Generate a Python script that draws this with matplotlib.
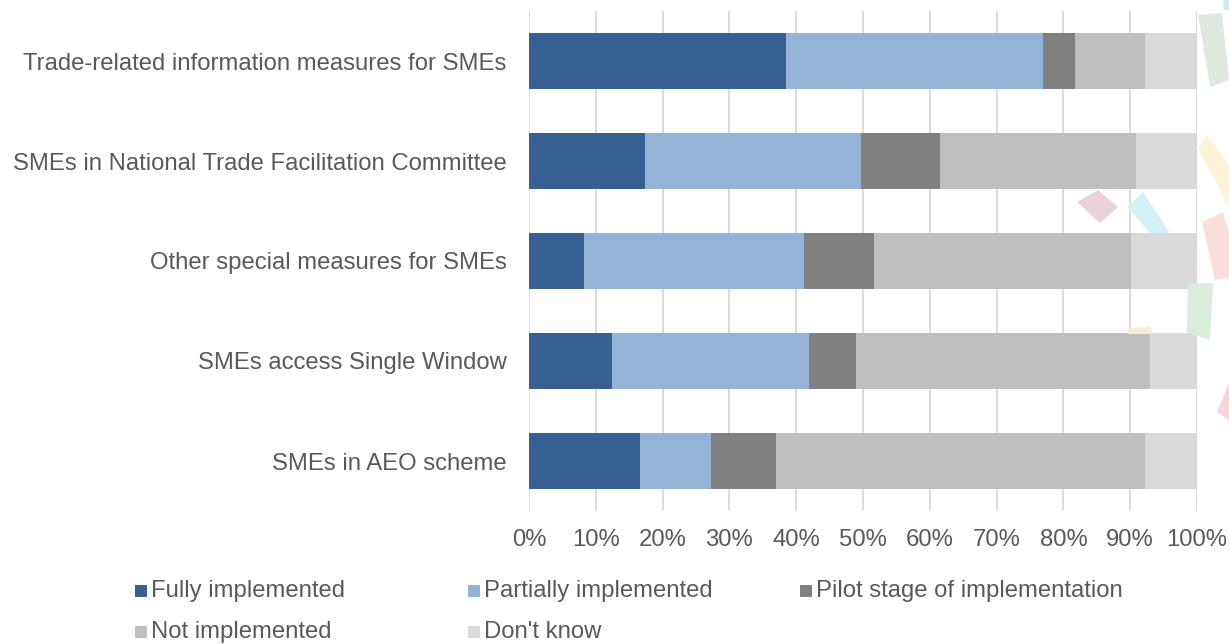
import matplotlib
matplotlib.use("Agg")
import matplotlib.pyplot as plt
from matplotlib.patches import Polygon, Rectangle
import numpy as np

categories = [
    "Trade-related information measures for SMEs",
    "SMEs in National Trade Facilitation Committee",
    "Other special measures for SMEs",
    "SMEs access Single Window",
    "SMEs in AEO scheme",
]
series_names = ["Fully implemented", "Partially implemented",
                "Pilot stage of implementation", "Not implemented", "Don't know"]
fully = [38.4, 17.4, 8.2, 12.4, 16.6]
partially = [38.5, 32.3, 33.0, 29.5, 10.6]
pilot = [4.8, 11.8, 10.5, 7.0, 9.8]
not_impl = [10.5, 29.4, 38.4, 44.1, 55.2]
dont_know = [7.8, 9.1, 9.9, 7.0, 7.8]
xticks = [0, 10, 20, 30, 40, 50, 60, 70, 80, 90, 100]

colors = ["#366092", "#95B3D7", "#808080", "#BFBFBF", "#D9D9D9"]
text_color = "#595959"
FS = 17.2

plt.rcParams['font.family'] = ['Liberation Sans', 'DejaVu Sans']

W, H = 1229, 644
fig = plt.figure(figsize=(W / 100, H / 100), dpi=100)

# faint decorative background pieces (logo fragments), pixel coords y-down
deco = [
    ("#cfe9f5", [(1223, 0), (1229, 0), (1229, 10), (1224, 10)]),
    ("#dfe8de", [(1198, 15), (1222, 13), (1229, 80), (1210, 87)]),
    ("#fff2d6", [(1207, 135), (1229, 165), (1229, 207), (1198, 148)]),
    ("#fcdedb", [(1202, 222), (1223, 212), (1229, 233), (1229, 278), (1215, 280)]),
    ("#daeddc", [(1188, 283), (1213, 283), (1210, 340), (1187, 333)]),
    ("#fad3da", [(1229, 383), (1217, 412), (1229, 420)]),
    ("#ead2d8", [(1077, 202), (1098, 190), (1118, 207), (1100, 223)]),
    ("#d3f0f8", [(1127, 207), (1143, 192), (1170, 233), (1150, 233)]),
    ("#f9eed5", [(1128, 329), (1150, 326), (1153, 334), (1128, 334)]),
]
for c, pts in deco:
    fig.patches.append(Polygon([(x / W, 1 - y / H) for x, y in pts], closed=True,
                               transform=fig.transFigure, facecolor=c,
                               edgecolor="none", zorder=0))

left, right, top, bottom = 529, 1197, 11, 511
ax = fig.add_axes([left / W, 1 - bottom / H, (right - left) / W, (bottom - top) / H])
ax.set_facecolor("none")

y = np.arange(len(categories))
data = [fully, partially, pilot, not_impl, dont_know]
cum = np.zeros(len(categories))
for vals, c, name in zip(data, colors, series_names):
    ax.barh(y, vals, left=cum, height=0.56, color=c, label=name, zorder=3)
    cum += np.array(vals)

ax.set_xlim(0, 100)
ax.set_ylim(len(categories) - 0.5, -0.5)
ax.set_xticks(xticks)
ax.set_xticklabels([f"{t}%" for t in xticks])
ax.set_yticks(y)
ax.set_yticklabels(categories)
ax.tick_params(axis="both", length=0, labelsize=FS, labelcolor=text_color)
ax.tick_params(axis="y", pad=16)
ax.tick_params(axis="x", pad=13)
ax.grid(axis="x", color="#D9D9D9", linewidth=1.3, zorder=0)
for s in ax.spines.values():
    s.set_visible(False)

# legend (manual layout, row-major)
leg_pos = [(135, 591), (468, 591), (800, 591), (135, 632), (468, 632)]
sq = 12
for (px, py), c, name in zip(leg_pos, colors, series_names):
    fig.patches.append(Rectangle((px / W, 1 - (py + sq / 2) / H), sq / W, sq / H,
                                 transform=fig.transFigure, facecolor=c,
                                 edgecolor="none"))
    fig.text((px + sq + 4) / W, 1 - py / H, name, fontsize=FS, color=text_color,
             va="center", ha="left")

fig.savefig("out.png", dpi=100)
